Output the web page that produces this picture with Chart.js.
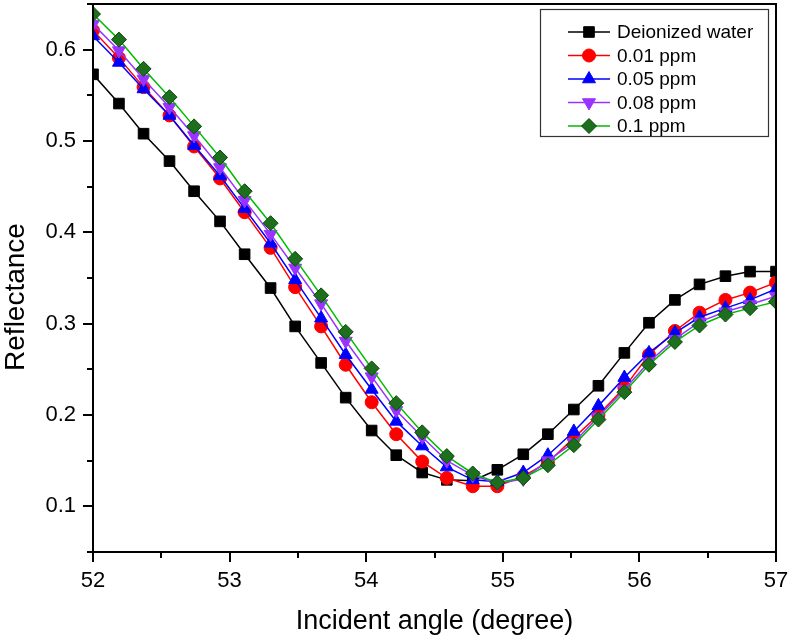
<!DOCTYPE html>
<html>
<head>
<meta charset="utf-8">
<script src="https://cdn.jsdelivr.net/npm/chart.js@4/dist/chart.umd.min.js"></script>
<style>
html,body{margin:0;padding:0;background:#fff;}
#wrap{width:795px;height:642px;position:relative;}
</style>
</head>
<body>
<div id="wrap"><canvas id="c" width="795" height="642"></canvas></div>
<script>
const angles = [52.00, 52.19, 52.37, 52.56, 52.74, 52.93, 53.11, 53.30, 53.48, 53.67, 53.85, 54.04, 54.22, 54.41, 54.59, 54.78, 54.96, 55.15, 55.33, 55.52, 55.70, 55.89, 56.07, 56.26, 56.44, 56.63, 56.81, 57.00];
const water  = [0.573,0.541,0.508,0.478,0.445,0.412,0.376,0.339,0.297,0.257,0.219,0.183,0.156,0.137,0.129,0.128,0.140,0.157,0.179,0.206,0.232,0.268,0.301,0.326,0.343,0.352,0.357,0.357];
const ppm001 = [0.621,0.591,0.559,0.528,0.494,0.459,0.422,0.383,0.340,0.297,0.255,0.214,0.179,0.149,0.131,0.122,0.122,0.133,0.148,0.175,0.200,0.230,0.266,0.292,0.312,0.326,0.334,0.345];
const ppm005 = [0.615,0.586,0.557,0.528,0.495,0.462,0.426,0.388,0.348,0.306,0.266,0.228,0.193,0.166,0.143,0.129,0.127,0.137,0.156,0.182,0.210,0.241,0.268,0.290,0.307,0.317,0.326,0.338];
const ppm008 = [0.628,0.599,0.568,0.537,0.506,0.471,0.435,0.398,0.361,0.322,0.281,0.242,0.205,0.176,0.150,0.134,0.125,0.130,0.150,0.170,0.198,0.228,0.258,0.283,0.302,0.313,0.321,0.330];
const ppm01  = [0.639,0.611,0.579,0.548,0.516,0.482,0.445,0.410,0.371,0.331,0.291,0.251,0.213,0.181,0.155,0.136,0.126,0.131,0.145,0.167,0.195,0.225,0.255,0.280,0.298,0.310,0.317,0.324];

const seriesLabels = ['Deionized water', '0.01 ppm', '0.05 ppm', '0.08 ppm', '0.1 ppm'];
const xTicks = [52, 53, 54, 55, 56, 57];
const xMinorTicks = [52.5, 53.5, 54.5, 55.5, 56.5];
const yTicks = [0.1, 0.2, 0.3, 0.4, 0.5, 0.6];
const yMinorTicks = [0.05, 0.15, 0.25, 0.35, 0.45, 0.55, 0.65];
const xTitle = 'Incident angle (degree)';
const yTitle = 'Reflectance';

const FONT = "'Liberation Sans', Arial, sans-serif";

const styles = [
  {line:'#000000', fill:'#000000', stroke:'#000000', ps:'rect', r:7.5, rot:0},
  {line:'#ff0000', fill:'#ff0000', stroke:'#ff0000', ps:'circle', r:6.5, rot:0},
  {line:'#0000ff', fill:'#0000ff', stroke:'#0000ff', ps:'triangle', r:7.5, rot:0},
  {line:'#9933ff', fill:'#9933ff', stroke:'#9933ff', ps:'triangle', r:7.5, rot:180},
  {line:'#00bb00', fill:'#1d6e1d', stroke:'#0b470b', ps:'rectRot', r:7.5, rot:0}
];
const allSeries = [water, ppm001, ppm005, ppm008, ppm01];

const datasets = allSeries.map((vals, i) => ({
  label: seriesLabels[i],
  data: angles.map((a, j) => ({x: a, y: vals[j]})),
  borderColor: styles[i].line,
  borderWidth: 1.5,
  backgroundColor: styles[i].fill,
  pointBackgroundColor: styles[i].fill,
  pointBorderColor: styles[i].stroke,
  pointBorderWidth: 1,
  pointStyle: styles[i].ps,
  pointRadius: styles[i].r,
  pointRotation: styles[i].rot,
  pointHoverRadius: styles[i].r,
  tension: 0,
  fill: false,
  clip: 0,
  order: 4 - i
}));

function drawMarker(ctx, s, x, y) {
  ctx.save();
  ctx.fillStyle = s.fill; ctx.strokeStyle = s.stroke; ctx.lineWidth = 1;
  ctx.beginPath();
  const r = s.r;
  if (s.ps === 'rect') {
    const h = Math.SQRT1_2 * r;
    ctx.rect(x - h, y - h, 2*h, 2*h);
  } else if (s.ps === 'circle') {
    ctx.arc(x, y, r, 0, Math.PI*2);
  } else if (s.ps === 'triangle') {
    let rad = s.rot * Math.PI / 180;
    ctx.moveTo(x + Math.sin(rad)*r, y - Math.cos(rad)*r);
    rad += 2*Math.PI/3;
    ctx.lineTo(x + Math.sin(rad)*r, y - Math.cos(rad)*r);
    rad += 2*Math.PI/3;
    ctx.lineTo(x + Math.sin(rad)*r, y - Math.cos(rad)*r);
    ctx.closePath();
  } else if (s.ps === 'rectRot') {
    ctx.moveTo(x, y - r); ctx.lineTo(x + r, y); ctx.lineTo(x, y + r); ctx.lineTo(x - r, y); ctx.closePath();
  }
  ctx.fill(); ctx.stroke();
  ctx.restore();
}

const decorations = {
  id: 'decorations',
  afterDraw(chart) {
    const {ctx, chartArea: a, scales: {x, y}} = chart;
    ctx.save();
    ctx.strokeStyle = '#000';
    ctx.lineWidth = 2;
    ctx.strokeRect(a.left, a.top, a.right - a.left, a.bottom - a.top);
    ctx.beginPath();
    xMinorTicks.forEach(v => { const px = Math.round(x.getPixelForValue(v)); ctx.moveTo(px, a.bottom); ctx.lineTo(px, a.bottom + 6); });
    yMinorTicks.forEach(v => { const py = Math.round(y.getPixelForValue(v)); ctx.moveTo(a.left, py); ctx.lineTo(a.left - 6, py); });
    ctx.stroke();

    // y title
    ctx.save();
    ctx.translate(24, 297);
    ctx.rotate(-Math.PI/2);
    ctx.fillStyle = '#000';
    ctx.font = '28px ' + FONT;
    ctx.textAlign = 'center';
    ctx.textBaseline = 'alphabetic';
    ctx.fillText(yTitle, 0, 0);
    ctx.restore();

    // legend
    const bx = a.right - 236, by = a.top + 5, bw = 228, bh = 127;
    ctx.lineWidth = 1.2;
    ctx.strokeStyle = '#333';
    ctx.fillStyle = '#fff';
    ctx.fillRect(bx, by, bw, bh);
    ctx.strokeRect(bx + 0.5, by + 0.5, bw, bh);
    ctx.font = '19px ' + FONT;
    ctx.textBaseline = 'middle';
    ctx.textAlign = 'left';
    seriesLabels.forEach((lab, i) => {
      const ry = by + 23 + i * 23.5;
      const s = styles[i];
      ctx.strokeStyle = s.line; ctx.lineWidth = 1.5;
      ctx.beginPath(); ctx.moveTo(bx + 28, ry); ctx.lineTo(bx + 70, ry); ctx.stroke();
      drawMarker(ctx, s, bx + 49, ry);
      ctx.fillStyle = '#000';
      ctx.fillText(lab, bx + 77, ry + 1);
    });
    ctx.restore();
  }
};

new Chart(document.getElementById('c'), {
  type: 'line',
  data: { datasets },
  plugins: [decorations],
  options: {
    responsive: false,
    animation: false,
    events: [],
    layout: { autoPadding: false, padding: { top: 4, right: 19, left: 0, bottom: 0 } },
    plugins: { legend: { display: false }, tooltip: { enabled: false } },
    scales: {
      x: {
        type: 'linear',
        min: 52, max: 57,
        afterFit(s) { s.height = 90; s.paddingLeft = 0; s.paddingRight = 0; },
        afterBuildTicks(s) { s.ticks = xTicks.map(v => ({value: v})); },
        border: { display: true, color: '#000', width: 2 },
        grid: { display: true, drawOnChartArea: false, drawTicks: true, tickLength: 10, color: '#000', lineWidth: 2 },
        ticks: { color: '#000', font: { family: FONT, size: 22 }, padding: 6, maxRotation: 0 },
        title: { display: true, text: xTitle, color: '#000', font: { family: FONT, size: 27 }, padding: { top: 0, bottom: 4 } }
      },
      y: {
        type: 'linear',
        min: 0.05, max: 0.65,
        afterFit(s) { s.width = 93; s.paddingTop = 0; s.paddingBottom = 0; },
        afterBuildTicks(s) { s.ticks = yTicks.map(v => ({value: v})); },
        border: { display: true, color: '#000', width: 2 },
        grid: { display: true, drawOnChartArea: false, drawTicks: true, tickLength: 10, color: '#000', lineWidth: 2 },
        ticks: { color: '#000', font: { family: FONT, size: 22 }, padding: 7, callback: v => v.toFixed(1) }
      }
    }
  }
});
</script>
</body>
</html>
